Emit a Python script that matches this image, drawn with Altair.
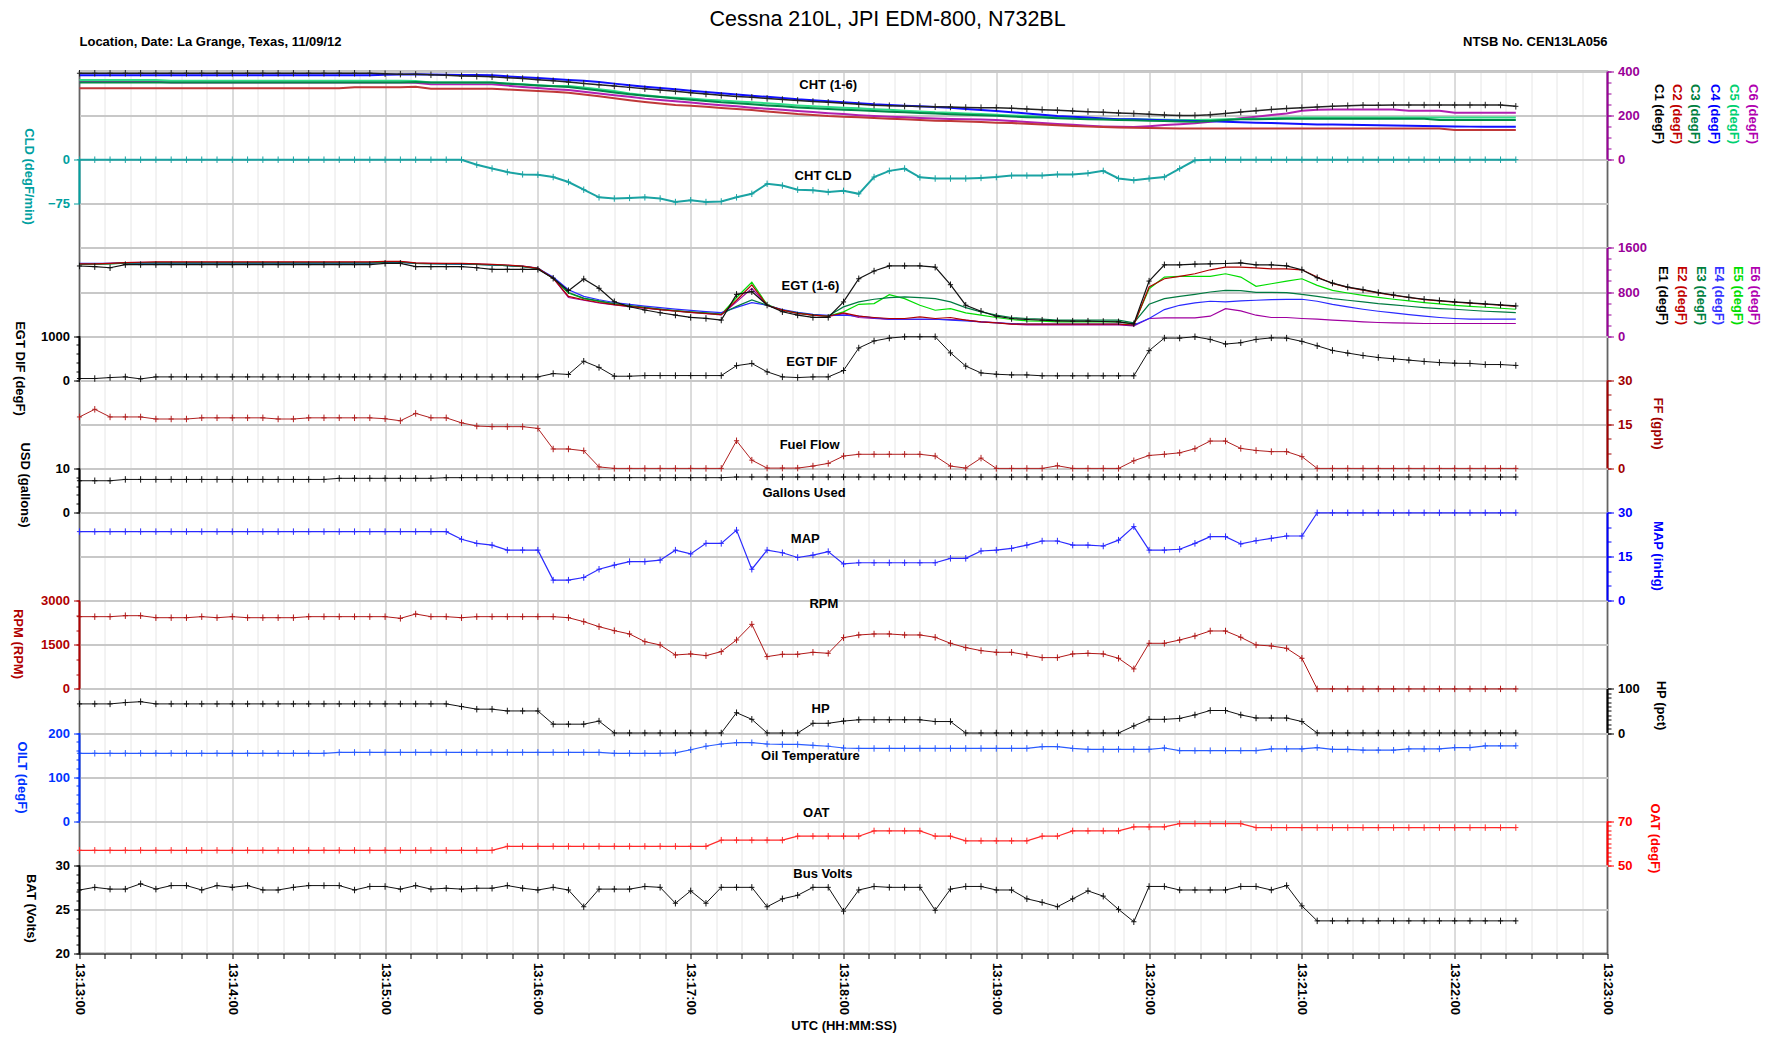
import altair as alt
import pandas as pd

# ---------------- data (6-second samples from 13:13:00 UTC) ----------------
times = list(range(0, 570, 6))  # seconds after 13:13:00

cht1 = [392,392,392,392,392,392,392,392,392,392, 392,392,392,392,392,392,392,392,392,392,
        390,388,387,385,383,380,378,376,372,368, 363,358,352,346,340,334,328,322,316,310,
        304,298,292,287,283,278,273,269,264,260, 256,251,247,245,243,241,240,239,237,236,
        236,233,230,227,224,221,218,215,212,209, 206,203,201,201,204,210,216,222,228,232,
        236,239,242,245,247,247,248,248,248,248, 248,248,248,248,242]
cht2 = [324,324,324,324,324,324,324,324,324,324, 324,324,324,324,324,324,324,324,329,329,
        329,329,331,322,322,322,322,322,318,315, 312,308,304,296,288,279,270,262,255,248,
        245,240,235,230,225,219,213,207,203,198, 195,192,189,186,183,180,177,175,173,171,
        168,166,163,160,156,153,150,148,146,145, 144,143,142,142,142,142,142,142,142,142,
        142,142,142,142,142,142,142,142,142,142, 135,135,135,135,135]
cht3 = [350,350,350,350,350,350,350,350,350,350, 350,350,350,350,350,350,350,350,350,350,
        350,350,352,350,350,350,350,350,345,341, 337,333,330,322,314,305,297,290,284,278,
        272,266,260,256,251,246,242,237,233,230, 227,224,221,218,215,212,209,206,204,202,
        199,196,193,191,188,186,184,182,180,179, 177,175,173,172,176,180,183,184,185,186,
        186,186,186,186,186,186,186,186,186,180, 180,180,180,180,180]
cht4 = [383,383,383,383,383,383,383,383,383,383, 383,383,383,383,383,383,383,383,383,383,
        385,386,387,386,385,384,384,383,378,374, 370,366,362,358,352,345,338,331,325,319,
        313,307,301,296,290,285,280,274,270,265, 260,256,251,248,245,242,239,236,230,225,
        221,215,210,204,198,195,191,187,184,183, 181,179,177,176,174,172,170,168,166,164,
        162,160,160,158,157,156,155,154,153,152, 151,150,150,150,150]
cht5 = [362,362,362,362,362,362,358,358,358,358, 358,358,358,358,358,358,358,358,358,358,
        358,358,357,350,350,350,350,350,346,342, 338,334,334,328,320,312,300,292,286,281,
        277,272,268,264,260,256,251,246,242,239, 236,233,229,226,222,219,215,213,210,207,
        204,201,198,195,192,190,188,186,184,183, 182,181,180,180,181,183,185,186,188,190,
        191,191,191,191,191,191,191,191,191,191, 191,191,191,191,191]
cht6 = [354,354,354,354,354,354,350,350,350,350, 350,350,350,350,350,350,350,350,350,350,
        350,350,349,342,342,342,342,342,336,330, 325,320,316,308,300,292,285,277,271,265,
        259,253,247,242,236,231,226,221,216,211, 207,202,198,195,192,189,187,185,184,182,
        180,176,171,166,162,158,154,151,149,148, 152,157,161,165,172,180,188,195,203,210,
        222,226,228,228,228,228,228,222,222,222, 213,213,213,213,213]
cld = [0,0,0,0,0,0,0,0,0,0, 0,0,0,0,0,0,0,0,0,0,
       0,0,0,0,0,0,-8.5,-15,-21,-25, -25.5,-29.5,-38,-51,-64,-66,-65,-64,-66,-72,
       -69,-72,-71,-64,-58,-41,-44,-51,-52,-55, -53,-58,-29.5,-19,-15,-30,-32,-32,-32,-31,
       -29.5,-27,-27,-27,-25,-25,-23,-19,-32,-35, -32,-29.5,-15,-1,0,0,0,0,0,0,
       0,0,0,0,0,0,0,0,0,0, 0,0,0,0,0]
egt1 = [1272,1260,1240,1297,1297,1297,1297,1297,1297,1297, 1297,1297,1297,1297,1297,1297,1297,1297,1297,1297,
        1320,1320,1260,1260,1260,1260,1240,1212,1212,1212, 1212,1050,825,1036,867,624,533,473,424,382,
        339,321,291,757,806,563,442,382,340,340, 620,1040,1180,1275,1275,1275,1250,932,560,451,
        361,319,301,289,277,271,271,265,259,223, 998,1293,1293,1305,1311,1317,1329,1293,1293,1275,
        1203,1059,962,890,842,788,746,704,668,644, 620,602,583,565,547]
egt2 = [1310,1310,1320,1333,1340,1345,1345,1345,1345,1345, 1345,1345,1345,1345,1345,1345,1345,1345,1345,1345,
        1355,1355,1330,1320,1320,1320,1310,1300,1290,1270, 1230,1050,720,660,610,570,540,510,480,455,
        430,410,390,650,930,560,470,415,380,360, 421,361,337,319,319,349,319,337,289,259,
        241,217,217,217,217,217,217,217,217,199, 890,1040,1083,1131,1203,1251,1251,1239,1221,1221,
        1203,1071,955,885,835,783,740,700,662,638, 614,596,578,560,540]
egt3 = [1300,1305,1310,1325,1330,1330,1330,1330,1330,1330, 1330,1330,1330,1330,1330,1330,1330,1330,1330,1330,
        1340,1340,1320,1315,1310,1310,1300,1290,1280,1260, 1225,1050,790,690,640,590,555,520,490,462,
        440,420,400,540,655,560,470,420,385,365, 530,620,668,698,710,698,680,620,517,439,
        379,337,319,310,289,289,289,289,289,241, 577,680,722,758,800,830,824,794,794,788,
        758,722,680,650,620,589,565,541,517,499, 487,469,451,439,427]
egt4 = [1320,1320,1320,1325,1325,1325,1325,1325,1325,1325, 1325,1325,1325,1325,1325,1325,1325,1325,1325,1325,
        1335,1335,1320,1315,1310,1305,1300,1290,1280,1265, 1230,1070,840,720,660,610,575,545,515,490,
        465,445,425,520,606,560,480,430,395,375, 379,361,331,307,307,307,307,289,277,259,
        241,229,217,217,217,217,217,217,217,199, 319,481,559,602,632,620,638,650,662,668,
        668,632,577,529,487,451,421,391,361,337, 319,307,307,307,307]
egt5 = [1310,1310,1315,1325,1330,1330,1330,1330,1330,1330, 1330,1330,1330,1330,1330,1330,1330,1330,1330,1330,
        1340,1340,1320,1315,1315,1310,1300,1290,1280,1265, 1230,1050,780,680,630,580,545,515,485,458,
        436,415,395,700,976,570,470,415,380,362, 439,577,589,752,680,559,469,499,421,379,
        337,301,277,271,259,259,259,259,259,217, 860,1071,1083,1083,1083,1131,1071,902,950,998,
        1040,920,830,782,740,704,668,638,608,583, 559,541,523,505,487]
egt6 = [1310,1310,1320,1335,1340,1340,1340,1340,1340,1340, 1340,1340,1340,1340,1340,1340,1340,1340,1340,1340,
        1350,1350,1325,1320,1315,1310,1305,1295,1285,1270, 1235,1050,700,650,600,565,535,505,478,452,
        428,405,385,620,867,560,465,412,378,358, 409,337,319,301,301,301,301,301,289,259,
        247,217,205,205,205,205,205,205,205,187, 319,331,331,331,361,499,457,379,337,337,
        319,307,289,277,259,247,241,235,229,229, 229,229,229,229,229]
egt_dif = [38,38,60,75,30,75,75,75,75,75, 75,75,75,75,75,75,75,75,75,75,
           75,75,75,75,75,75,75,75,75,75, 75,150,130,430,290,90,90,105,105,105,
           105,105,105,330,380,190,75,60,75,75, 220,730,890,955,985,985,985,620,320,165,
           135,120,120,100,100,100,100,100,100,100, 670,955,955,985,925,820,850,925,960,955,
           880,780,675,615,560,515,485,455,425,400, 385,380,355,355,335]
fuel_flow = [17.5,20.1,17.5,17.5,17.5,16.8,16.8,16.8,17.2,17.2, 17.2,17.2,17.2,16.8,16.8,17.2,17.2,17.2,17.2,17.2,
             16.9,16.2,18.7,17.2,17.2,15.5,14.4,14.2,14.2,14.2, 13.6,6.6,6.6,6.0,0.5,0,0,0,0,0,
             0,0,0,9.4,2.8,0.1,0.1,0.1,0.8,1.7, 4.2,4.8,4.8,4.8,4.8,4.8,4.2,0.8,0.1,3.5,
             0,0,0,0,0.9,0,0,0,0,2.6, 4.4,4.8,5.3,6.7,9.3,9.3,6.8,6.1,5.7,5.7,
             4.0,0,0,0,0,0,0,0,0,0, 0,0,0,0,0]
gallons = [7.2,7.2,7.2,7.5,7.5,7.5,7.5,7.5,7.5,7.5, 7.5,7.5,7.5,7.5,7.5,7.5,7.5,7.75,7.75,7.75,
           7.75,7.75,7.75,7.75,7.9,7.9,7.9,7.9,7.9,7.9, 7.9,7.9,7.9,7.9,7.9,7.9,7.9,7.9,7.9,7.9,
           7.9,7.9,7.9,8.05,8.05,8.05,8.05,8.05,8.05,8.05, 8.05,8.05,8.05,8.05,8.05,8.05,8.05,8.05,8.05,8.05,
           8.05,8.05,8.05,8.05,8.05,8.05,8.05,8.05,8.05,8.05, 8.05,8.05,8.05,8.05,8.05,8.05,8.05,8.05,8.05,8.05,
           8.05,8.05,8.05,8.05,8.05,8.05,8.05,8.05,8.05,8.05, 8.05,8.05,8.05,8.05,8.05]
map_inhg = [23.5,23.5,23.5,23.5,23.5,23.5,23.5,23.5,23.5,23.5, 23.5,23.5,23.5,23.5,23.5,23.5,23.5,23.5,23.5,23.5,
            23.5,23.5,23.5,23.5,23.5,20.9,19.5,18.9,17.2,17.2, 17.2,7.0,7.0,7.9,10.7,12.1,13.3,13.3,13.8,17.2,
            15.9,19.5,19.5,24.0,10.7,17.2,16.3,14.7,15.5,16.7, 12.5,12.9,12.9,12.9,12.9,12.9,12.9,14.4,14.4,16.9,
            17.2,17.8,18.9,20.3,20.3,18.9,18.9,18.6,20.6,25.2, 17.2,17.2,17.5,19.5,21.8,21.8,19.3,20.4,21.2,22.0,
            22.0,29.9,29.9,29.9,29.9,29.9,29.9,29.9,29.9,29.9, 29.9,29.9,29.9,29.9,29.9]
rpm = [2457,2457,2457,2490,2490,2422,2422,2422,2457,2422, 2457,2422,2422,2422,2422,2457,2457,2457,2457,2457,
       2457,2400,2547,2457,2457,2422,2457,2457,2457,2457, 2457,2457,2422,2287,2117,1981,1868,1607,1494,1154,
       1189,1132,1268,1664,2196,1098,1177,1177,1245,1211, 1743,1834,1868,1868,1834,1834,1755,1551,1404,1302,
       1245,1245,1155,1064,1064,1189,1211,1189,1041,679, 1551,1551,1664,1800,1970,1970,1755,1494,1460,1381,
       1041,0,0,0,0,0,0,0,0,0, 0,0,0,0,0]
hp = [66,66,66,69,71,66,66,66,66,66, 66,66,66,66,66,66,66,66,66,66,
      66,66,66,66,66,60,54,54,50,50, 50,20,20,20,27,0,0,0,0,0,
      0,0,0,46,31,0,0,0,22,22, 27,30,30,30,30,30,26,26,0,0,
      0,0,0,0,0,0,0,0,0,16, 31,31,33,41,51,51,41,34,34,34,
      26,0,0,0,0,0,0,0,0,0, 0,0,0,0,0]
oil_temp = [154,154,154,154,154,154,154,154,154,154, 154,154,154,154,154,154,154,156,156,156,
            156,156,156,156,156,156,156,156,156,156, 156,156,156,156,156,154,154,154,154,155,
            162,170,175,178,178,175,174,174,172,170, 166,165,165,165,165,165,165,165,165,165,
            165,165,165,169,169,165,163,163,163,163, 163,166,160,160,160,160,160,160,164,164,
            164,167,163,163,161,161,161,164,164,164, 167,167,171,171,171]
oat = [56.8,56.8,56.8,56.8,56.8,56.8,56.8,56.8,56.8,56.8, 56.8,56.8,56.8,56.8,56.8,56.8,56.8,56.8,56.8,56.8,
       56.8,56.8,56.8,56.8,56.8,56.8,56.8,56.8,58.6,58.6, 58.6,58.6,58.6,58.6,58.6,58.6,58.6,58.6,58.6,58.6,
       58.6,58.6,61.4,61.4,61.4,61.4,61.4,63.2,63.2,63.2, 63.2,63.2,65.6,65.6,65.6,65.6,63.2,63.2,61.1,61.1,
       61.1,61.1,61.1,63.2,63.2,65.6,65.6,65.6,65.6,67.4, 67.4,67.4,68.9,68.9,68.9,68.9,68.9,67.1,67.1,67.1,
       67.1,67.1,67.1,67.1,67.1,67.1,67.1,67.1,67.1,67.1, 67.1,67.1,67.1,67.1,67.1]
bus_volts = [27.2,27.5,27.3,27.3,27.9,27.3,27.7,27.7,27.2,27.7, 27.5,27.7,27.2,27.2,27.5,27.7,27.7,27.7,27.2,27.6,
             27.6,27.3,27.7,27.3,27.4,27.3,27.4,27.4,27.7,27.4, 27.2,27.5,27.2,25.3,27.3,27.3,27.3,27.6,27.5,25.7,
             27.1,25.7,27.5,27.5,27.5,25.3,26.2,26.6,27.5,27.5, 24.8,27.2,27.6,27.5,27.5,27.5,24.9,27.3,27.6,27.6,
             27.2,27.2,26.2,25.8,25.3,26.2,27.1,26.5,25.0,23.6, 27.6,27.6,27.2,27.2,27.2,27.2,27.6,27.6,27.2,27.7,
             25.4,23.7,23.7,23.7,23.7,23.7,23.7,23.7,23.7,23.7, 23.7,23.7,23.7,23.7,23.7]

series = dict(C1=cht1, C2=cht2, C3=cht3, C4=cht4, C5=cht5, C6=cht6, CLD=cld,
              E1=egt1, E2=egt2, E3=egt3, E4=egt4, E5=egt5, E6=egt6, DIF=egt_dif,
              FF=fuel_flow, USD=gallons, MAP=map_inhg, RPM=rpm, HP=hp, OILT=oil_temp,
              OAT=oat, BAT=bus_volts)
for k, v in series.items():
    assert len(v) == len(times), (k, len(v))

df = pd.DataFrame({"t": times, **series})

# annotation labels (time in s, vertical position in grid-band units)
ann_labels = ["CHT (1-6)", "CHT CLD", "EGT (1-6)", "EGT DIF", "Fuel Flow", "Gallons Used",
              "MAP", "RPM", "HP", "Oil Temperature", "OAT", "Bus Volts"]
ann_t = [294, 292, 287, 287.6, 286.7, 284.5, 285, 292.3, 291, 287, 289.3, 291.9]
ann_g = [0.30, 2.36, 4.86, 6.58, 8.47, 9.55, 10.61, 12.08, 14.46, 15.53, 16.82, 18.2]

# ---------------- layout / style ----------------
W, H = 1528, 882
FONT = "Liberation Sans, Arial, Helvetica, sans-serif"
PLUS = "M-0.8,0L0.8,0M0,-1L0,1"
PURPLE = "#990099"

X = alt.X(
    "t:Q",
    scale=alt.Scale(domain=[0, 600], nice=False, zero=False),
    title="UTC (HH:MM:SS)",
    axis=alt.Axis(
        values=list(range(0, 601, 10)),
        labelExpr="datum.value % 60 === 0 ? '13:' + (13 + datum.value / 60) + ':00' : ''",
        labelAngle=90, labelAlign="left", labelBaseline="middle",
        labelFont=FONT, labelFontSize=13, labelFontWeight="bold", labelColor="black",
        labelPadding=4, labelFlush=False, labelOverlap=False,
        tickSize=5, tickColor="black", domain=True, domainColor="black",
        grid=True, gridWidth=1,
        gridColor={"condition": {"test": "datum.value % 60 === 0", "value": "#b8b8b8"}, "value": "#e6e6e6"},
        titleFont=FONT, titleFontSize=13, titleFontWeight="bold", titleColor="black",
        titleY=72, titleBaseline="middle",
    ),
)


def yscale(dom):
    return alt.Scale(domain=dom, nice=False, zero=False)


def main_axis(orient, values, color, labels=True, ticks=True, title=None, tx=0, ty=0, tcolor="black"):
    kw = dict(orient=orient, values=values, grid=False, domain=False, labels=labels, ticks=ticks,
              tickSize=6, tickColor=color, labelColor=color, labelFont=FONT, labelFontSize=13,
              labelFontWeight="bold", labelPadding=4, format="d")
    if title:
        kw.update(titleColor=tcolor, titleFont=FONT, titleFontSize=13, titleFontWeight="bold",
                  titleAngle=90, titleX=tx, titleY=ty, titleAlign="center", titleBaseline="middle")
    return alt.Axis(**kw)


def line(field, color, dom, axis, width=1.0, markers=False, title=None):
    mk = dict(color=color, strokeWidth=width)
    if markers:
        mk["point"] = alt.OverlayMarkDef(shape=PLUS, size=42, filled=False, color=color,
                                        stroke=color, strokeWidth=1)
    return alt.Chart(df).mark_line(**mk).encode(
        x=X, y=alt.Y(f"{field}:Q", scale=yscale(dom), axis=axis, title=title)
    )


def segment(top, bot, color, dom, orient, minor):
    d = pd.DataFrame({"top": [top], "bot": [bot]})
    xv = 0 if orient == "left" else W
    if minor:
        ax = alt.Axis(orient=orient, values=minor, labels=False, ticks=True, tickSize=3.5,
                      tickColor=color, domain=False, grid=False)
    else:
        ax = None
    return alt.Chart(d).mark_rule(color=color, strokeWidth=2).encode(
        x=alt.value(xv), y=alt.Y("top:Q", scale=yscale(dom), axis=ax, title=None), y2="bot:Q"
    )


layers = []

# grid + annotation layer
grid_axis = alt.Axis(orient="left", values=list(range(21)), grid=True, gridColor="#c8c8c8",
                     gridWidth=2, labels=False, ticks=False, domain=False)
ann_df = pd.DataFrame({"label": ann_labels, "t": ann_t, "g": ann_g})
band_scale = alt.Scale(domain=[0, 20], reverse=True, nice=False, zero=False)
layers.append(
    alt.Chart(ann_df).mark_text(font=FONT, fontSize=13, fontWeight="bold", color="black",
                                align="center", baseline="middle")
    .encode(x=X, y=alt.Y("g:Q", scale=band_scale, axis=grid_axis, title=None), text="label:N")
)

# header texts
hdr = [("Cessna 210L, JPI EDM-800, N732BL", 317.3, -1.16, "center", 21.5, "normal"),
       ("Location, Date: La Grange, Texas, 11/09/12", 0, -0.67, "left", 13, "bold"),
       ("NTSB No. CEN13LA056", 600, -0.67, "right", 13, "bold")]
for txt, tt, gg, al, fs, fw in hdr:
    hd = pd.DataFrame({"label": [txt], "t": [tt], "g": [gg]})
    layers.append(
        alt.Chart(hd).mark_text(font=FONT, fontSize=fs, fontWeight=fw, color="black",
                                align=al, baseline="middle")
        .encode(x=X, y=alt.Y("g:Q", scale=band_scale, axis=None), text="label:N")
    )

# ---- CHT panel (right axis) ----
CHT_DOM = [-3600, 400]
c_cols = ["black", "#c00000", "#008040", "#0000ff", "#00d070", "#b000b0"]
c_line = ["#222222", "#c03838", "#008a48", "#1010ff", "#30dd88", "#b020b0"]
c_tx = [50.5, 68.5, 86.5, 106.5, 125.5, 144.5]
for k in [5, 4, 3, 2, 1, 0]:
    nm = f"C{k + 1}"
    ax = main_axis("right", [0, 200, 400], PURPLE, labels=(k == 5), ticks=(k == 5),
                   title=f"{nm} (degF)", tx=c_tx[k], ty=42, tcolor=c_cols[k])
    layers.append(line(nm, c_line[k], CHT_DOM, ax, width=2 if k else 1.5, markers=(k == 0),
                       title=f"{nm} (degF)"))
layers.append(segment(400, 0, PURPLE, CHT_DOM, "right", list(range(0, 401, 50))))

# ---- CLD (left) ----
CLD_DOM = [-1350, 150]
layers.append(line("CLD", "#1aa3a3", CLD_DOM,
                   main_axis("left", [-75, 0], "#00a0a0", title="CLD (degF/min)", tx=-51, ty=104.5,
                             tcolor="#00a0a0"),
                   width=2, markers=True, title="CLD (degF/min)"))
layers.append(segment(0, -75, "#00a0a0", CLD_DOM, "left", []))

# ---- EGT panel (right) ----
EGT_DOM = [-11200, 4800]
e_cols = ["black", "#c00000", "#008040", "#3333ff", "#00dd00", "#b000b0"]
e_line = ["#111111", "#b00000", "#007a40", "#2a2aff", "#00dd00", "#a000a0"]
e_tx = [54.5, 73.5, 92.5, 110.5, 129.5, 146.5]
for k in [5, 4, 3, 2, 1, 0]:
    nm = f"E{k + 1}"
    ax = main_axis("right", [0, 800, 1600], PURPLE, labels=(k == 5), ticks=(k == 5),
                   title=f"{nm} (degF)", tx=e_tx[k], ty=223.5, tcolor=e_cols[k])
    layers.append(line(nm, e_line[k], EGT_DOM, ax, width=1.2, markers=(k == 0), title=f"{nm} (degF)"))
layers.append(segment(1600, 0, PURPLE, EGT_DOM, "right", list(range(0, 1601, 200))))

# ---- EGT DIF (left) ----
DIF_DOM = [-13000, 7000]
layers.append(line("DIF", "#111111", DIF_DOM,
                   main_axis("left", [0, 1000], "black", title="EGT DIF (degF)", tx=-60, ty=296.5),
                   width=1, markers=True, title="EGT DIF (degF)"))
layers.append(segment(1000, 0, "black", DIF_DOM, "left", list(range(0, 1001, 200))))

# ---- Fuel flow (right) ----
FF_DOM = [-165, 135]
layers.append(line("FF", "#b02020", FF_DOM,
                   main_axis("right", [0, 15, 30], "#a00000", title="FF (gph)", tx=49.5, ty=351.5,
                             tcolor="#a00000"),
                   width=1, markers=True, title="FF (gph)"))
layers.append(segment(30, 0, "#a00000", FF_DOM, "right", list(range(0, 31, 5))))

# ---- Gallons used (left) ----
USD_DOM = [-100, 100]
layers.append(line("USD", "#111111", USD_DOM,
                   main_axis("left", [0, 10], "black", title="USD (gallons)", tx=-55.5, ty=413),
                   width=1, markers=True, title="USD (gallons)"))
layers.append(segment(10, 0, "black", USD_DOM, "left", list(range(0, 11, 2))))

# ---- MAP (right) ----
MAP_DOM = [-120, 180]
layers.append(line("MAP", "#2a2aff", MAP_DOM,
                   main_axis("right", [0, 15, 30], "#0000ff", title="MAP (inHg)", tx=49.5, ty=484,
                             tcolor="#0000ff"),
                   width=1.2, markers=True, title="MAP (inHg)"))
layers.append(segment(30, 0, "#0000ff", MAP_DOM, "right", list(range(0, 31, 5))))

# ---- RPM (left) ----
RPM_DOM = [-9000, 21000]
layers.append(line("RPM", "#b01818", RPM_DOM,
                   main_axis("left", [0, 1500, 3000], "#b00000", title="RPM (RPM)", tx=-62.5, ty=572,
                             tcolor="#b00000"),
                   width=1, markers=True, title="RPM (RPM)"))
layers.append(segment(3000, 0, "#b00000", RPM_DOM, "left", list(range(0, 3001, 500))))

# ---- HP (right) ----
HP_DOM = [-500, 1500]
layers.append(line("HP", "#111111", HP_DOM,
                   main_axis("right", [0, 100], "black", title="HP (pct)", tx=52.5, ty=633.5),
                   width=1, markers=True, title="HP (pct)"))
layers.append(segment(100, 0, "black", HP_DOM, "right", list(range(0, 101, 10))))

# ---- Oil temperature (left) ----
OIL_DOM = [-300, 1700]
layers.append(line("OILT", "#2a5cff", OIL_DOM,
                   main_axis("left", [0, 100, 200], "#0033ff", title="OILT (degF)", tx=-58.5, ty=705.5,
                             tcolor="#0033ff"),
                   width=1.2, markers=True, title="OILT (degF)"))
layers.append(segment(200, 0, "#0033ff", OIL_DOM, "left", list(range(0, 201, 20))))

# ---- OAT (right) ----
OAT_DOM = [10, 410]
layers.append(line("OAT", "#ff2a2a", OAT_DOM,
                   main_axis("right", [50, 70], "#ff0000", title="OAT (degF)", tx=46.5, ty=766.5,
                             tcolor="#ff0000"),
                   width=1.2, markers=True, title="OAT (degF)"))
layers.append(segment(70, 50, "#ff0000", OAT_DOM, "right", list(range(50, 71, 2))))

# ---- Bus volts (left) ----
BAT_DOM = [20, 120]
layers.append(line("BAT", "#111111", BAT_DOM,
                   main_axis("left", [20, 25, 30], "black", title="BAT (Volts)", tx=-49.5, ty=836.5),
                   width=1, markers=True, title="BAT (Volts)"))
layers.append(segment(30, 20, "black", BAT_DOM, "left", list(range(20, 31, 1))))

chart = (
    alt.layer(*layers)
    .resolve_scale(y="independent")
    .resolve_axis(y="independent")
    .properties(
        width=W, height=H,
        autosize=alt.AutoSizeParams(type="none"),
        padding={"left": 71.5, "top": 63.5, "right": 159.5, "bottom": 84.5},
    )
    .configure_view(stroke="#111111", strokeWidth=1.5)
)

chart.save("out.html", embed_options={"renderer": "svg", "actions": False})
